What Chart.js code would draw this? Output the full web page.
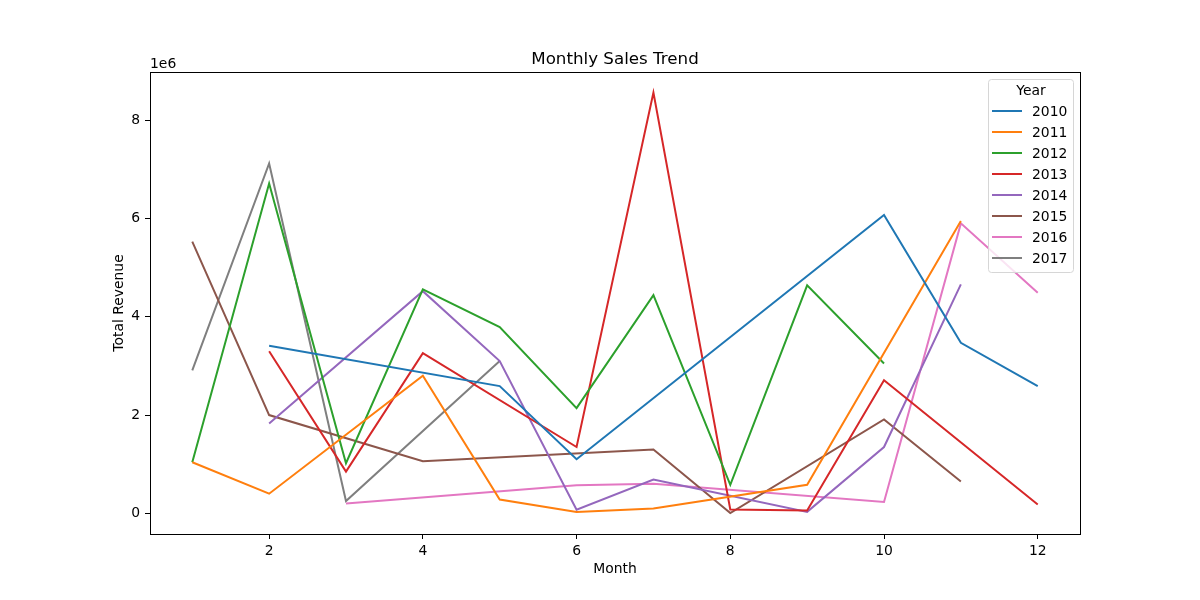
<!DOCTYPE html>
<html>
<head>
<meta charset="utf-8">
<title>Monthly Sales Trend</title>
<script src="https://cdn.jsdelivr.net/npm/chart.js@4.4.1/dist/chart.umd.min.js"></script>
<style>
  html, body { margin: 0; padding: 0; background: #fff; }
  #wrap { width: 1200px; height: 600px; }
</style>
</head>
<body>
<div id="wrap"><canvas id="chart" width="1200" height="600"></canvas></div>
<script>
// months present for each year, and total revenue for those months
const years = ['2010', '2011', '2012', '2013', '2014', '2015', '2016', '2017'];
const colors = ['#1f77b4', '#ff7f0e', '#2ca02c', '#d62728', '#9467bd', '#8c564b', '#e377c2', '#7f7f7f'];

const months2010 = [2, 5, 6, 10, 11, 12];
const revenue2010 = [3410000, 2590000, 1100000, 6070000, 3470000, 2590000];

const months2011 = [1, 2, 4, 5, 6, 7, 9, 11];
const revenue2011 = [1040000, 400000, 2800000, 280000, 30000, 100000, 580000, 5950000];

const months2012 = [1, 2, 3, 4, 5, 6, 7, 8, 9, 10];
const revenue2012 = [1040000, 6710000, 1020000, 4560000, 3790000, 2140000, 4440000, 580000, 4640000, 3050000];

const months2013 = [2, 3, 4, 6, 7, 8, 9, 10, 12];
const revenue2013 = [3300000, 850000, 3260000, 1350000, 8560000, 80000, 60000, 2710000, 180000];

const months2014 = [2, 4, 5, 6, 7, 9, 10, 11];
const revenue2014 = [1830000, 4520000, 3100000, 75000, 690000, 30000, 1350000, 4660000];

const months2015 = [1, 2, 4, 7, 8, 10, 11];
const revenue2015 = [5530000, 2000000, 1060000, 1300000, 5000, 1910000, 650000];

const months2016 = [3, 6, 7, 10, 11, 12];
const revenue2016 = [200000, 570000, 600000, 230000, 5900000, 4490000];

const months2017 = [1, 2, 3, 5];
const revenue2017 = [2910000, 7120000, 250000, 3100000];

const xTicks = [2, 4, 6, 8, 10, 12];
const yTicks = [0, 2000000, 4000000, 6000000, 8000000];

const monthLists = [months2010, months2011, months2012, months2013, months2014, months2015, months2016, months2017];
const revenueLists = [revenue2010, revenue2011, revenue2012, revenue2013, revenue2014, revenue2015, revenue2016, revenue2017];

const FONT = 'DejaVu Sans';

const datasets = years.map((year, i) => ({
    label: year,
    data: monthLists[i].map((m, j) => ({ x: m, y: revenueLists[i][j] })),
    borderColor: colors[i],
    backgroundColor: colors[i],
    borderWidth: 2,
    pointRadius: 0,
    fill: false,
    tension: 0,
}));

// frame, title, axis labels, offset text and legend drawn matplotlib style
const decorations = {
    id: 'decorations',
    afterDraw(chart) {
        const { ctx, chartArea: a } = chart;
        ctx.save();
        ctx.strokeStyle = '#000';
        ctx.lineWidth = 1;
        ctx.strokeRect(a.left + 0.5, a.top + 0.5, a.right - a.left, a.bottom - a.top);

        ctx.fillStyle = '#000';
        ctx.textAlign = 'center';
        ctx.textBaseline = 'alphabetic';
        ctx.font = `16.7px "${FONT}"`;
        ctx.fillText('Monthly Sales Trend', (a.left + a.right) / 2, 64);

        ctx.font = `13.9px "${FONT}"`;
        ctx.fillText('Month', (a.left + a.right) / 2, 573);

        ctx.textAlign = 'left';
        ctx.fillText('1e6', a.left, 68);

        ctx.save();
        ctx.translate(123, (a.top + a.bottom) / 2);
        ctx.rotate(-Math.PI / 2);
        ctx.textAlign = 'center';
        ctx.fillText('Total Revenue', 0, 0);
        ctx.restore();

        // legend box
        const bx = 988.5, by = 79.5, bw = 85, bh = 193, r = 3;
        ctx.beginPath();
        ctx.moveTo(bx + r, by);
        ctx.lineTo(bx + bw - r, by);
        ctx.quadraticCurveTo(bx + bw, by, bx + bw, by + r);
        ctx.lineTo(bx + bw, by + bh - r);
        ctx.quadraticCurveTo(bx + bw, by + bh, bx + bw - r, by + bh);
        ctx.lineTo(bx + r, by + bh);
        ctx.quadraticCurveTo(bx, by + bh, bx, by + bh - r);
        ctx.lineTo(bx, by + r);
        ctx.quadraticCurveTo(bx, by, bx + r, by);
        ctx.closePath();
        ctx.fillStyle = 'rgba(255,255,255,0.8)';
        ctx.fill();
        ctx.strokeStyle = '#d6d6d6';
        ctx.stroke();

        ctx.fillStyle = '#000';
        ctx.textAlign = 'center';
        ctx.textBaseline = 'middle';
        ctx.fillText('Year', 1031, 91);
        ctx.textAlign = 'left';
        years.forEach((year, i) => {
            const y = 111 + i * 21;
            ctx.strokeStyle = colors[i];
            ctx.lineWidth = 2;
            ctx.beginPath();
            ctx.moveTo(992, y);
            ctx.lineTo(1022, y);
            ctx.stroke();
            ctx.fillStyle = '#000';
            ctx.fillText(year, 1032, y + 1);
        });
        ctx.restore();
    }
};

new Chart(document.getElementById('chart'), {
    type: 'line',
    data: { datasets },
    options: {
        responsive: false,
        animation: false,
        devicePixelRatio: 1,
        layout: { padding: { left: 0, right: 120, top: 72, bottom: 0 } },
        plugins: {
            legend: { display: false },
            title: { display: false },
            tooltip: { enabled: false },
        },
        scales: {
            x: {
                type: 'linear',
                min: 0.45,
                max: 12.55,
                afterFit: scale => { scale.height = 66; },
                afterBuildTicks: scale => { scale.ticks = xTicks.map(v => ({ value: v })); },
                grid: { drawOnChartArea: false, drawTicks: true, tickLength: 5, color: '#000' },
                border: { display: false },
                ticks: {
                    padding: 4,
                    maxRotation: 0,
                    color: '#000',
                    font: { family: FONT, size: 13.9 },
                    callback: v => String(v),
                },
            },
            y: {
                type: 'linear',
                min: -420000,
                max: 8980000,
                afterFit: scale => { scale.width = 150; },
                afterBuildTicks: scale => { scale.ticks = yTicks.map(v => ({ value: v })); },
                grid: { drawOnChartArea: false, drawTicks: true, tickLength: 5, color: '#000' },
                border: { display: false },
                ticks: {
                    padding: 5,
                    color: '#000',
                    font: { family: FONT, size: 13.9 },
                    callback: v => String(v / 1000000),
                },
            },
        },
    },
    plugins: [decorations],
});
</script>
</body>
</html>
